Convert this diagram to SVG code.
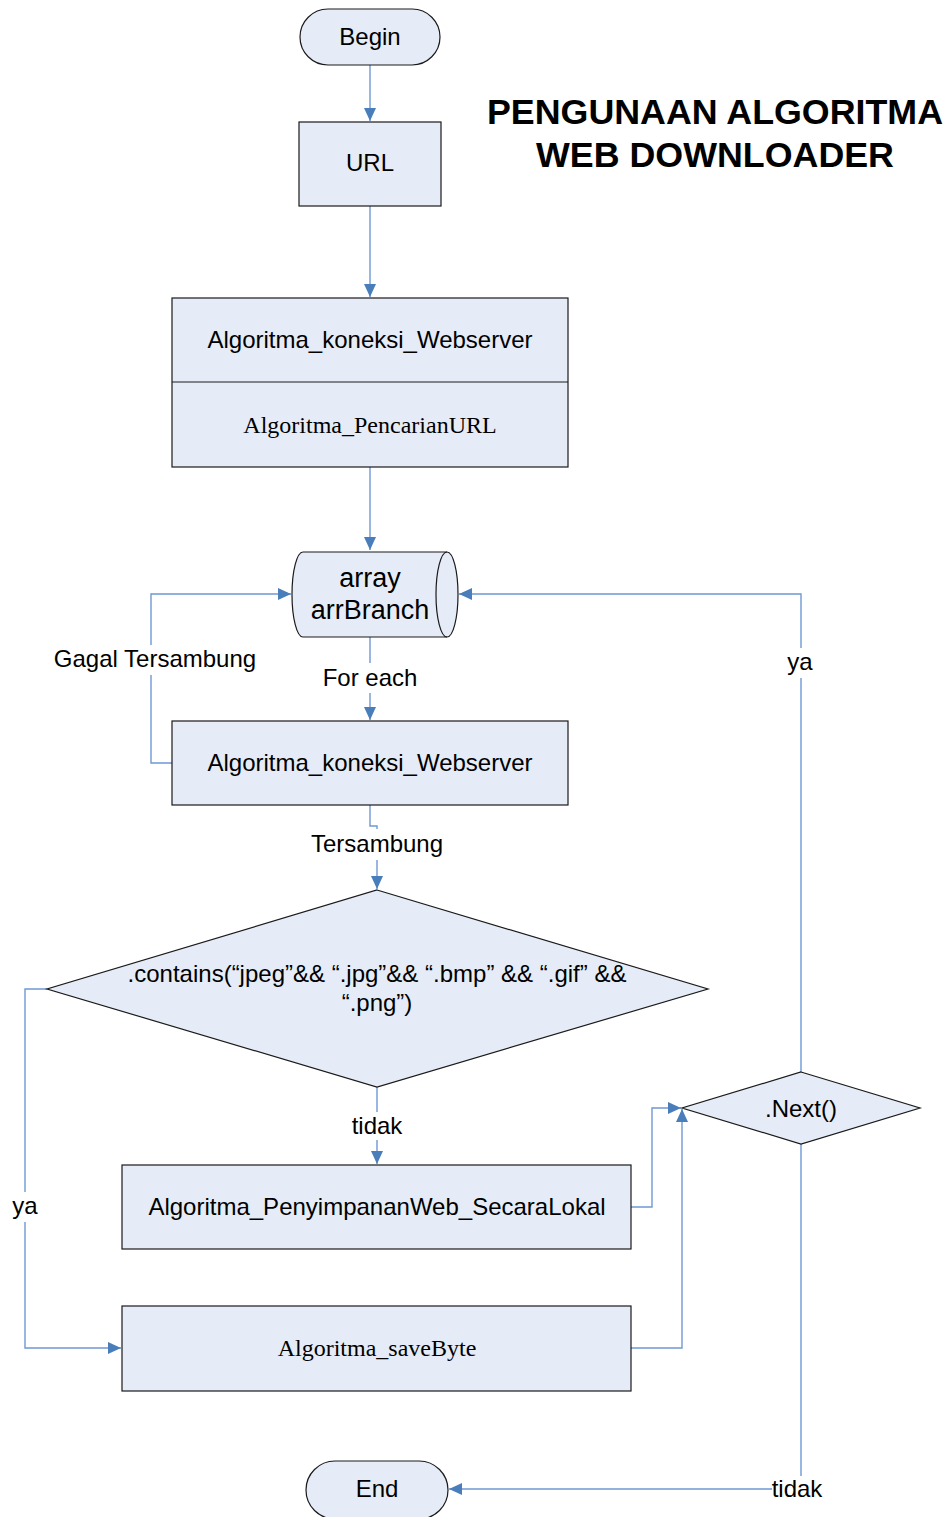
<svg xmlns="http://www.w3.org/2000/svg" width="950" height="1517" viewBox="0 0 950 1517">
<style>
.shape{fill:#e6ecf7;stroke:#1a1a1a;stroke-width:1.2}
.t{font-family:"Liberation Sans",Arial,sans-serif;font-size:24px;fill:#000;text-anchor:middle}
.s{font-family:"Liberation Serif","Times New Roman",serif;font-size:24px;fill:#000;text-anchor:middle}
.big{font-size:27px}
.title{font-family:"Liberation Sans",Arial,sans-serif;font-size:35.8px;font-weight:bold;fill:#000;text-anchor:middle}
.c{fill:none;stroke:#6f98d4;stroke-width:1.4}
</style>
<defs>
<marker id="ah" markerUnits="userSpaceOnUse" markerWidth="14" markerHeight="12" refX="13" refY="6" orient="auto">
<path d="M0,0 L13,6 L0,12 Z" fill="#4a7ebb"/>
</marker>
</defs>
<rect width="950" height="1517" fill="#fff"/>
<g id="title">
<text class="title" x="715" y="124">PENGUNAAN ALGORITMA</text>
<text class="title" x="715" y="167">WEB DOWNLOADER</text>
</g>
<g id="connectors">
<path class="c" d="M370,65 V121" marker-end="url(#ah)"/>
<path class="c" d="M370,206 V297" marker-end="url(#ah)"/>
<path class="c" d="M370,467 V550" marker-end="url(#ah)"/>
<path class="c" d="M370,637 V663 M370,693 V720" marker-end="url(#ah)"/>
<path class="c" d="M172,763 H151 V675 M151,645 V594 H291" marker-end="url(#ah)"/>
<path class="c" d="M370,805 V826 H377 V829 M377,860 V889" marker-end="url(#ah)"/>
<path class="c" d="M377,1087 V1112 M377,1140 V1164" marker-end="url(#ah)"/>
<path class="c" d="M47,989 H25 V1192 M25,1222 V1348 H121" marker-end="url(#ah)"/>
<path class="c" d="M631,1207 H652 V1108 H681" marker-end="url(#ah)"/>
<path class="c" d="M631,1348 H682 V1109" marker-end="url(#ah)"/>
<path class="c" d="M801,1072 V678 M801,648 V594 H459" marker-end="url(#ah)"/>
<path class="c" d="M801,1144 V1476 M772,1489 H449" marker-end="url(#ah)"/>
<text class="t" x="370" y="686">For each</text>
<text class="t" x="155" y="667">Gagal Tersambung</text>
<text class="t" x="377" y="852">Tersambung</text>
<text class="t" x="377" y="1134">tidak</text>
<text class="t" x="25" y="1214">ya</text>
<text class="t" x="800" y="670">ya</text>
<text class="t" x="797" y="1497">tidak</text>
</g>
<g id="begin">
<rect class="shape" x="300" y="9" width="140" height="56" rx="28" ry="28"/>
<text class="t" x="370" y="45">Begin</text>
</g>
<g id="url">
<rect class="shape" x="299" y="122" width="142" height="84"/>
<text class="t" x="370" y="171">URL</text>
</g>
<g id="algo-koneksi-pencarian">
<rect class="shape" x="172" y="298" width="396" height="169"/>
<line x1="172" y1="382" x2="568" y2="382" stroke="#1a1a1a" stroke-width="1.2"/>
<text class="t" x="370" y="348">Algoritma_koneksi_Webserver</text>
<text class="s" x="370" y="433">Algoritma_PencarianURL</text>
</g>
<g id="arrbranch">
<path class="shape" d="M303,552 H447 A11,42.5 0 0 1 447,637 H303 A11,42.5 0 0 1 303,552 Z"/>
<path d="M447,552 A11,42.5 0 0 0 447,637" fill="none" stroke="#1a1a1a" stroke-width="1.2"/>
<text class="t big" x="370" y="587">array</text>
<text class="t big" x="370" y="619">arrBranch</text>
</g>
<g id="koneksi2">
<rect class="shape" x="172" y="721" width="396" height="84"/>
<text class="t" x="370" y="771">Algoritma_koneksi_Webserver</text>
</g>
<g id="contains">
<polygon class="shape" points="377,890 708,989 377,1087 47,989"/>
<text class="t" x="377" y="982">.contains(“jpeg”&amp;&amp; “.jpg”&amp;&amp; “.bmp” &amp;&amp; “.gif” &amp;&amp;</text>
<text class="t" x="377" y="1011">“.png”)</text>
</g>
<g id="penyimpanan">
<rect class="shape" x="122" y="1165" width="509" height="84"/>
<text class="t" x="377" y="1215">Algoritma_PenyimpananWeb_SecaraLokal</text>
</g>
<g id="savebyte">
<rect class="shape" x="122" y="1306" width="509" height="85"/>
<text class="s" x="377" y="1356">Algoritma_saveByte</text>
</g>
<g id="next">
<polygon class="shape" points="801,1072 920,1108 801,1144 682,1108"/>
<text class="t" x="801" y="1117">.Next()</text>
</g>
<g id="end">
<rect class="shape" x="306" y="1461" width="142" height="58" rx="29" ry="29"/>
<text class="t" x="377" y="1497">End</text>
</g>
</svg>
